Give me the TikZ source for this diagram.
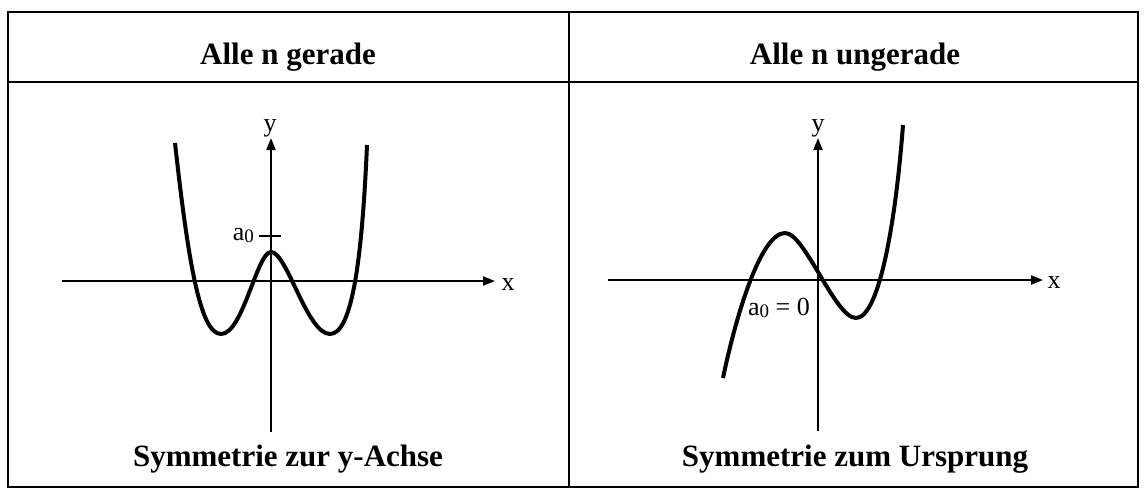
\documentclass[tikz,border=0pt]{standalone}
\usepackage{fontspec}
\setmainfont{Liberation Serif}
\usetikzlibrary{arrows.meta}
\tikzset{
  frameline/.style={line width=2.5pt},
  divider/.style={line width=1.5pt},
  axisline/.style={line width=2pt,-{Triangle[length=12pt,width=9pt]}},
  curveline/.style={line width=4pt,line join=round},
  ticky/.style={line width=2pt},
  titletext/.style={font=\fontsize{31}{37}\selectfont\bfseries,inner sep=0pt,anchor=base},
  labtext/.style={font=\fontsize{26}{30}\selectfont,inner sep=0pt},
}
\newcommand{\azero}{a\raisebox{-2pt}{\fontsize{19}{19}\selectfont 0}}
\begin{document}
\begin{tikzpicture}[x=1pt,y=-1pt]
\useasboundingbox (0,0) rectangle (1144,496);
% table frame
\draw[frameline] (8,12) rectangle (1138,487);
\draw[frameline] (8,82) -- (1138,82);
\draw[divider] (569,12) -- (569,487);
% titles
\node[titletext] (t1) at (288,64) {Alle n gerade};
\node[titletext] (t2) at (855,64) {Alle n ungerade};
\node[titletext] (b1) at (288,466) {Symmetrie zur y-Achse};
\node[titletext] (b2) at (855,466) {Symmetrie zum Ursprung};
% left axes
\coordinate (lxs) at (62,281);
\coordinate (lxe) at (495,281);
\coordinate (lys) at (271,432);
\coordinate (lye) at (271,138);
\draw[axisline] (lxs) -- (lxe);
\draw[axisline] (lys) -- (lye);
\node[labtext,anchor=base] (lx) at (508,290) {x};
\node[labtext,anchor=base] (ly) at (270,131) {y};
\coordinate (ta) at (259,236);
\coordinate (tb) at (281,236);
\draw[ticky] (ta) -- (tb);
\node[labtext,anchor=base east] (la) at (254,240) {\azero};
% left curve
\draw[curveline] (175,143) .. controls (188,260) and (200,334) .. (221,334)
  .. controls (243,334) and (257,252) .. (271,252)
  .. controls (287,252) and (307,334) .. (330,334)
  .. controls (352,334) and (362,260) .. (367,145);
% right axes
\coordinate (rxs) at (608,280);
\coordinate (rxe) at (1043,280);
\coordinate (rys) at (818,431);
\coordinate (rye) at (818,138);
\draw[axisline] (rxs) -- (rxe);
\draw[axisline] (rys) -- (rye);
\node[labtext,anchor=base] (rx) at (1054,288) {x};
\node[labtext,anchor=base] (ry) at (818,131) {y};
\node[labtext,anchor=base west] (ra) at (748,315) {\azero{} = 0};
% right curve
\draw[curveline] (723,378) .. controls (735,320) and (760,233) .. (785,233)
  .. controls (805,233) and (835,318) .. (856,318)
  .. controls (878,318) and (895,230) .. (903,125);
\end{tikzpicture}
\end{document}
